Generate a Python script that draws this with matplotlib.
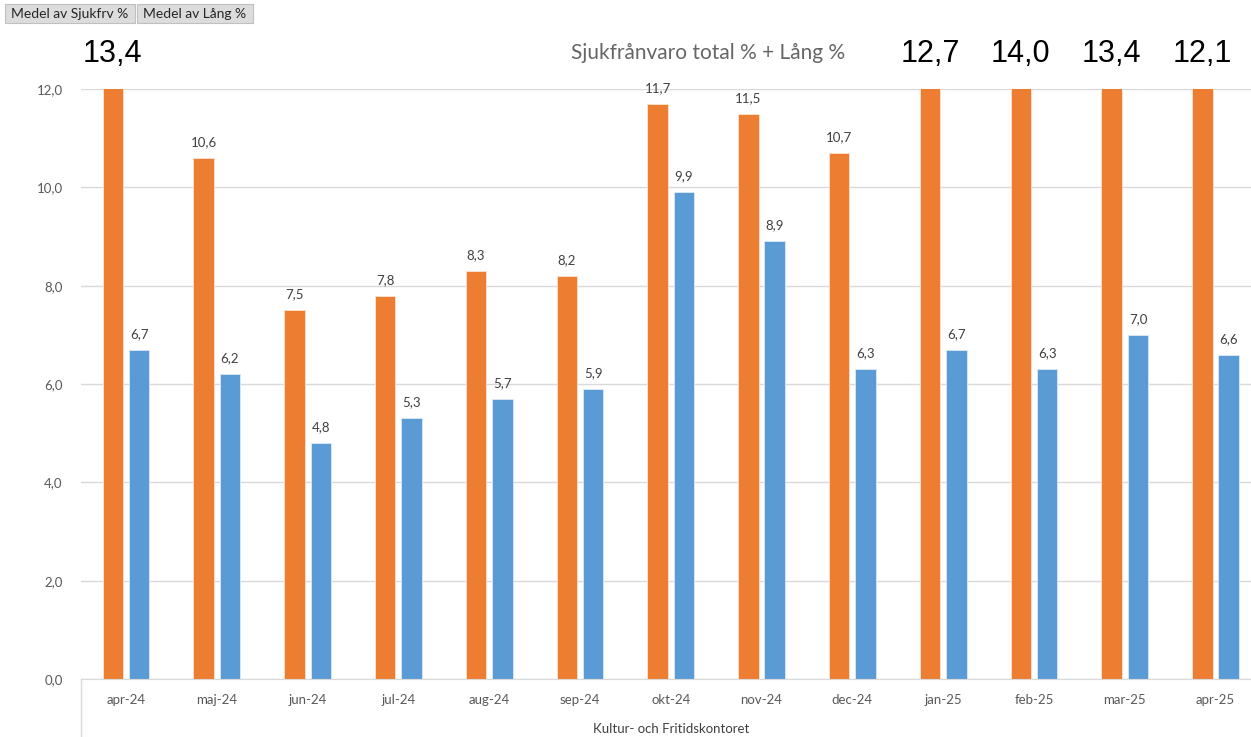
import numpy as np
import matplotlib.pyplot as plt
from matplotlib.patches import Rectangle
from matplotlib.lines import Line2D

plt.rcParams['font.family'] = ['Lato', 'DejaVu Sans']

# data
manader = ['apr-24', 'maj-24', 'jun-24', 'jul-24', 'aug-24', 'sep-24', 'okt-24',
           'nov-24', 'dec-24', 'jan-25', 'feb-25', 'mar-25', 'apr-25']
sjukfrv = [13.4, 10.6, 7.5, 7.8, 8.3, 8.2, 11.7, 11.5, 10.7, 12.7, 14.0, 13.4, 12.1]
lang = [6.7, 6.2, 4.8, 5.3, 5.7, 5.9, 9.9, 8.9, 6.3, 6.7, 6.3, 7.0, 6.6]
y_ticks = [0, 2, 4, 6, 8, 10, 12]

orange = '#ED7D31'
blue = '#5B9BD5'
txt = '#595959'

fig = plt.figure(figsize=(12.51, 7.37), dpi=100)
ax = fig.add_axes([80.6 / 1251, 58 / 737, (1251 - 80.6) / 1251, 590 / 737])

x = np.arange(len(manader))
w = 0.226
off = 0.145
ax.bar(x - off, sjukfrv, w, color=orange, edgecolor='#fbe3d3', linewidth=0.6, zorder=2)
ax.bar(x + off, lang, w, color=blue, edgecolor='#dce9f5', linewidth=0.6, zorder=2)

ymax = 12
ax.set_ylim(0, ymax)
ax.set_xlim(-0.5, 12.39)

for xi, v in zip(x, sjukfrv):
    if v > ymax:
        # värden utanför skalan skrivs stort ovanför
        ax.text(xi - off, 12.55, f'{v:.1f}'.replace('.', ','), ha='center', va='baseline',
                fontsize=22, family=['Liberation Sans'], color='black', clip_on=False)
    else:
        ax.annotate(f'{v:.1f}'.replace('.', ','), (xi - off, v), xytext=(0, 8.5),
                    textcoords='offset points', ha='center', va='baseline',
                    fontsize=9.5, color='#404040')
for xi, v in zip(x, lang):
    ax.annotate(f'{v:.1f}'.replace('.', ','), (xi + off, v), xytext=(0, 8.5),
                textcoords='offset points', ha='center', va='baseline',
                fontsize=9.5, color='#404040')

ax.set_yticks(y_ticks)
ax.set_yticklabels([f'{t:.1f}'.replace('.', ',') for t in y_ticks])
ax.set_xticks(x)
ax.set_xticklabels(manader)
ax.tick_params(axis='both', length=0, colors=txt, labelsize=9.5)
ax.tick_params(axis='x', pad=11)
ax.tick_params(axis='y', pad=13)
ax.grid(axis='y', color='#d9d9d9', linewidth=1, zorder=0)
ax.set_axisbelow(True)
for s in ['top', 'right', 'left']:
    ax.spines[s].set_visible(False)
ax.spines['bottom'].set_color('#d9d9d9')

# linje för kategorifältet under axeln
fig.add_artist(Line2D([81 / 1251, 81 / 1251], [0, 58 / 737], color='#d9d9d9', lw=1))

fig.text(708 / 1251, 1 - 53 / 737, 'Sjukfrånvaro total % + Lång %', ha='center', va='center',
         fontsize=15, color='#666666')
fig.text(671 / 1251, 1 - 729 / 737, 'Kultur- och Fritidskontoret', ha='center', va='center',
         fontsize=9.5, color='#404040')

# fältknappar
for x0, x1, lab in [(5, 135, 'Medel av Sjukfrv %'), (137, 253, 'Medel av Lång %')]:
    fig.add_artist(Rectangle((x0 / 1251, 1 - 23 / 737), (x1 - x0) / 1251, 19 / 737,
                             facecolor='#dcdcdc', edgecolor='#c0c0c0', lw=0.8))
    fig.text((x0 + x1) / 2 / 1251, 1 - 13.5 / 737, lab, ha='center', va='center',
             fontsize=10, color='#262626')

fig.savefig('out.png', dpi=100, facecolor='white')
